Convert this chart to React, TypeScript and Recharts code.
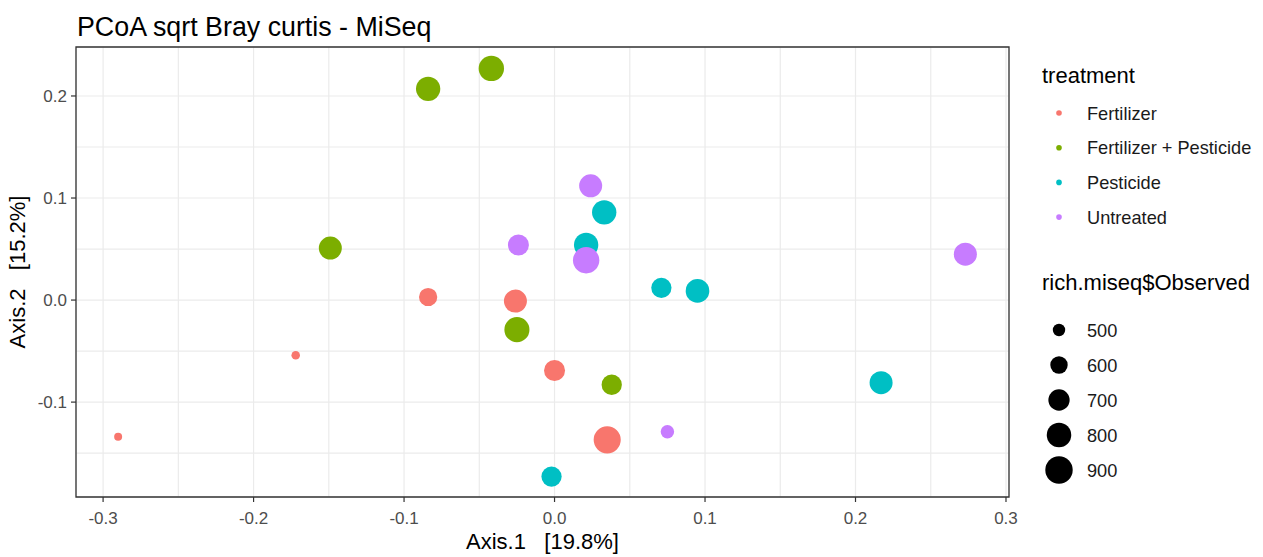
import React from 'react';
import { ScatterChart, Scatter, XAxis, YAxis, ZAxis, CartesianGrid, ReferenceArea } from 'recharts';

// each row: [Axis.1, Axis.2, rich.miseq$Observed]
const fertilizer: [number, number, number][] = [
  [-0.290, -0.134, 440],
  [-0.172, -0.054, 446],
  [-0.084, 0.003, 620],
  [-0.026, -0.001, 752],
  [0.000, -0.069, 692],
  [0.035, -0.137, 889],
];
const fertilizerPesticide: [number, number, number][] = [
  [-0.042, 0.227, 828],
  [-0.084, 0.207, 794],
  [-0.149, 0.051, 752],
  [-0.025, -0.029, 818],
  [0.038, -0.083, 672],
];
const pesticide: [number, number, number][] = [
  [0.033, 0.086, 794],
  [0.021, 0.054, 794],
  [0.071, 0.012, 672],
  [0.095, 0.009, 771],
  [0.217, -0.081, 752],
  [-0.002, -0.173, 672],
];
const untreated: [number, number, number][] = [
  [0.024, 0.112, 752],
  [-0.024, 0.054, 692],
  [0.021, 0.039, 863],
  [0.273, 0.045, 752],
  [0.075, -0.129, 518],
];

const treatments = ['Fertilizer', 'Fertilizer + Pesticide', 'Pesticide', 'Untreated'];
const treatmentColors = ['#F8766D', '#7CAE00', '#00BFC4', '#C77CFF'];
const seriesRows = [fertilizer, fertilizerPesticide, pesticide, untreated];
const sizeBreaks = [500, 600, 700, 800, 900];

const xTicks = [-0.3, -0.25, -0.2, -0.15, -0.1, -0.05, 0, 0.05, 0.1, 0.15, 0.2, 0.25, 0.3];
const yTicks = [-0.15, -0.1, -0.05, 0, 0.05, 0.1, 0.15, 0.2];
const X_DOMAIN: [number, number] = [-0.318, 0.302];
const Y_DOMAIN: [number, number] = [-0.193, 0.248];
const Z_DOMAIN: [number, number] = [440, 900];
const Z_RANGE: [number, number] = [50.3, 590]; // symbol area, px²

const W = 1263;
const H = 557;
const PLOT_LEFT = 76;
const PLOT_RIGHT = 1009;
const PLOT_TOP = 47;
const PLOT_BOTTOM = 497;
const FONT = "'Liberation Sans', Arial, sans-serif";
const TICK_LEN = 5;
const X_TICK_GAP = 10;
const Y_TICK_GAP = 4;

const isMajor = (v: number) => Math.abs(v * 10 - Math.round(v * 10)) < 1e-6;
const fmt = (v: number) => (Math.abs(v) < 1e-9 ? '0.0' : v.toFixed(1));

const areaFor = (v: number) =>
  Z_RANGE[0] + ((v - Z_DOMAIN[0]) / (Z_DOMAIN[1] - Z_DOMAIN[0])) * (Z_RANGE[1] - Z_RANGE[0]);

const XTick = (props: any) => {
  const { x, y, payload } = props;
  if (!isMajor(payload.value)) return null;
  return (
    <g>
      <line x1={x} x2={x} y1={y - X_TICK_GAP - TICK_LEN} y2={y - X_TICK_GAP} stroke="#333333" strokeWidth={1.2} />
      <text x={x} y={y} dy="0.71em" textAnchor="middle" fill="#4D4D4D" fontSize={17} fontFamily={FONT}>
        {fmt(payload.value)}
      </text>
    </g>
  );
};

const YTick = (props: any) => {
  const { x, y, payload } = props;
  if (!isMajor(payload.value)) return null;
  return (
    <g>
      <line x1={x + Y_TICK_GAP} x2={x + Y_TICK_GAP + TICK_LEN} y1={y} y2={y} stroke="#333333" strokeWidth={1.2} />
      <text x={x} y={y} dy="0.355em" textAnchor="end" fill="#4D4D4D" fontSize={17} fontFamily={FONT}>
        {fmt(payload.value)}
      </text>
    </g>
  );
};

const Overlay = () => {
  const keyX = 1059;
  const labelX = 1087;
  const midX = (PLOT_LEFT + PLOT_RIGHT) / 2;
  const midY = (PLOT_TOP + PLOT_BOTTOM) / 2;
  return (
    <svg width={W} height={H} style={{ position: 'absolute', left: 0, top: 0, pointerEvents: 'none' }} fontFamily={FONT}>
      <text x={77} y={36} fontSize={26.8} fill="#000">PCoA sqrt Bray curtis - MiSeq</text>
      <text x={midX} y={549} fontSize={22} fill="#000" textAnchor="middle" style={{ whiteSpace: 'pre' }}>
        {'Axis.1   [19.8%]'}
      </text>
      <text x={25} y={midY} fontSize={22} fill="#000" textAnchor="middle" transform={`rotate(-90 25 ${midY})`} style={{ whiteSpace: 'pre' }}>
        {'Axis.2   [15.2%]'}
      </text>

      <text x={1042} y={83} fontSize={22} fill="#000">treatment</text>
      {treatments.map((t, i) => {
        const cy = 113 + i * 34.7;
        return (
          <g key={t}>
            <circle cx={keyX} cy={cy} r={2.8} fill={treatmentColors[i]} />
            <text x={labelX} y={cy + 6.5} fontSize={18.2} fill="#1A1A1A">{t}</text>
          </g>
        );
      })}

      <text x={1042} y={290} fontSize={22} fill="#000">rich.miseq$Observed</text>
      {sizeBreaks.map((b, i) => {
        const cy = 330 + i * 35;
        return (
          <g key={b}>
            <circle cx={keyX} cy={cy} r={Math.sqrt(areaFor(b) / Math.PI)} fill="#000" />
            <text x={labelX} y={cy + 6.5} fontSize={18.2} fill="#1A1A1A">{b}</text>
          </g>
        );
      })}
    </svg>
  );
};

export default function App() {
  return (
    <div style={{ position: 'absolute', left: 0, top: 0, width: W, height: H, background: '#fff' }}>
      <ScatterChart
        width={W}
        height={H}
        margin={{ top: PLOT_TOP, right: W - PLOT_RIGHT, bottom: H - PLOT_BOTTOM - 55, left: 0 }}
      >
        <CartesianGrid stroke="#EBEBEB" strokeWidth={1.2} />
        <XAxis
          type="number"
          dataKey="x"
          domain={X_DOMAIN}
          allowDataOverflow
          ticks={xTicks}
          interval={0}
          height={55}
          axisLine={false}
          tickLine={false}
          tickSize={TICK_LEN}
          tickMargin={X_TICK_GAP}
          tick={<XTick />}
        />
        <YAxis
          type="number"
          dataKey="y"
          domain={Y_DOMAIN}
          allowDataOverflow
          ticks={yTicks}
          interval={0}
          width={PLOT_LEFT}
          axisLine={false}
          tickLine={false}
          tickSize={TICK_LEN}
          tickMargin={Y_TICK_GAP}
          tick={<YTick />}
        />
        <ZAxis type="number" dataKey="z" domain={Z_DOMAIN} range={Z_RANGE} />
        {seriesRows.map((rows, i) => (
          <Scatter
            key={treatments[i]}
            name={treatments[i]}
            data={rows.map(([x, y, z]) => ({ x, y, z }))}
            fill={treatmentColors[i]}
            isAnimationActive={false}
          />
        ))}
        <ReferenceArea
          x1={X_DOMAIN[0]}
          x2={X_DOMAIN[1]}
          y1={Y_DOMAIN[0]}
          y2={Y_DOMAIN[1]}
          fill="none"
          stroke="#333333"
          strokeWidth={1.3}
        />
      </ScatterChart>
      <Overlay />
    </div>
  );
}
